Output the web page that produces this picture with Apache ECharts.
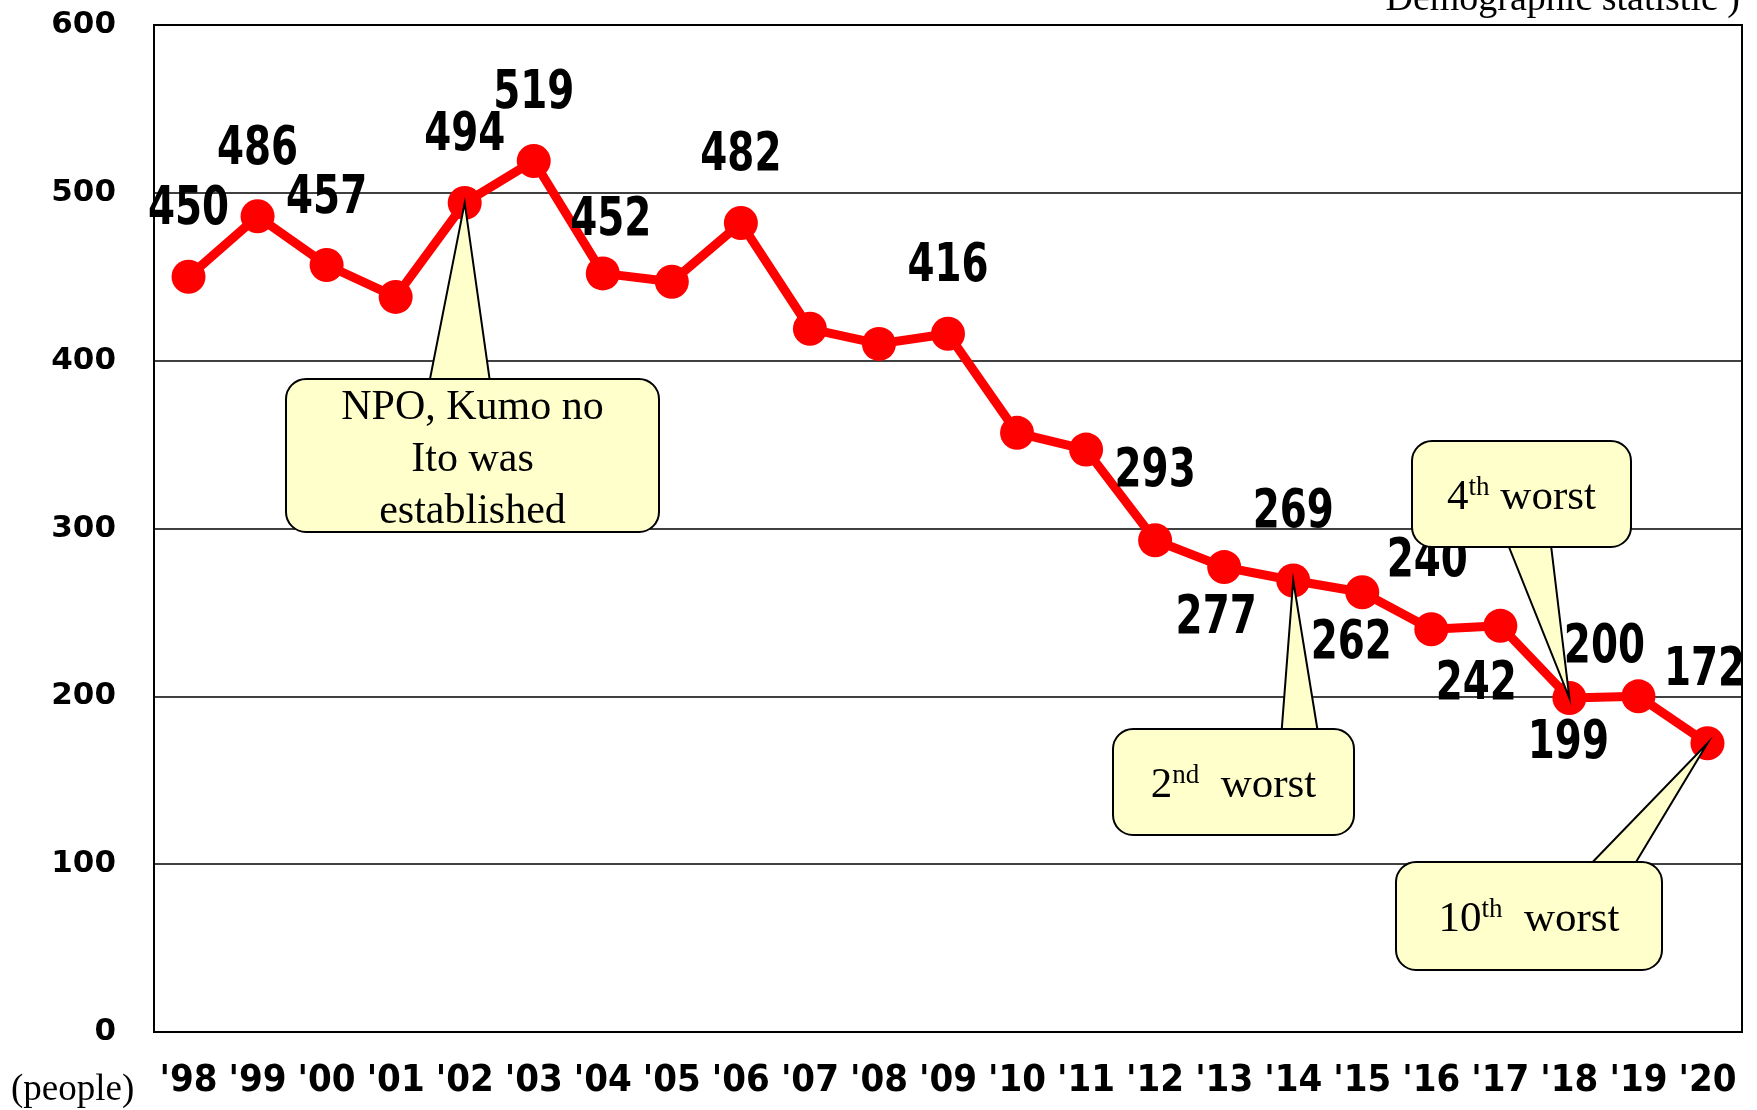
<!DOCTYPE html>
<html>
<head>
<meta charset="utf-8">
<script src="https://cdn.jsdelivr.net/npm/echarts@6/dist/echarts.min.js"></script>
<style>
  html, body { margin: 0; padding: 0; background: #fff; }
  #chart { width: 1757px; height: 1110px; }
</style>
</head>
<body>
<div id="chart"></div>
<script>
// years and counts (people)
var years = ["'98","'99","'00","'01","'02","'03","'04","'05","'06","'07","'08","'09",
             "'10","'11","'12","'13","'14","'15","'16","'17","'18","'19","'20"];
var counts = [450, 486, 457, 438, 494, 519, 452, 447, 482, 419, 410, 416,
              357, 347, 293, 277, 269, 262, 240, 242, 199, 200, 172];
// which points carry a number label
var labelled = [1,1,1,0,1,1,1,0,1,0,0,1,0,0,1,1,1,1,1,1,1,1,1];
var yTicks = [0, 100, 200, 300, 400, 500, 600];

// label offsets from the marker centre (layout, px)
var labelOffsets = {
  0: [0, -67], 1: [0, -66], 2: [0, -66], 4: [0, -67], 5: [0, -67],
  6: [8, -52], 8: [0, -67], 11: [0, -67], 14: [0, -68], 15: [-8, 52],
  16: [0, -68], 17: [-11, 52], 18: [-4, -67], 19: [-24, 59], 20: [-1, 46],
  21: [-34, -48], 22: [-3, -72]
};

var numFont = "'DejaVu Sans Condensed', 'DejaVu Sans', sans-serif";
var serif = "'Liberation Serif', 'DejaVu Serif', serif";

var chart = echarts.init(document.getElementById('chart'));

chart.setOption({
  backgroundColor: '#fff',
  animation: false,
  grid: {
    left: 154, right: 15, top: 25, bottom: 78,
    show: true, borderColor: '#000', borderWidth: 2, backgroundColor: 'transparent'
  },
  xAxis: {
    type: 'category',
    data: years,
    boundaryGap: true,
    axisLine: { lineStyle: { color: '#000', width: 2 } },
    axisTick: { show: false },
    axisLabel: {
      color: '#000', fontFamily: numFont, fontWeight: 'bold', fontSize: 38,
      margin: 30, interval: 0
    }
  },
  yAxis: {
    type: 'value',
    min: yTicks[0], max: yTicks[yTicks.length - 1], interval: 100,
    axisLine: { show: true, lineStyle: { color: '#000', width: 2 } },
    axisTick: { show: false },
    splitLine: { lineStyle: { color: '#000', width: 1.5 } },
    axisLabel: {
      color: '#000', fontFamily: "'DejaVu Sans', sans-serif", fontWeight: 'bold',
      fontSize: 31, margin: 38
    }
  },
  series: [{
    type: 'line',
    data: counts,
    symbol: 'circle',
    symbolSize: 34,
    lineStyle: { color: '#ff0000', width: 9 },
    itemStyle: { color: '#ff0000' },
    label: { show: false },
    z: 3
  }, {
    // value labels in a narrow face
    type: 'custom',
    data: counts.map(function (v, i) { return [i, v]; }),
    encode: { x: 0, y: 1 },
    silent: true,
    z: 4,
    renderItem: function (params, api) {
      var i = api.value(0);
      if (!labelled[i]) return null;
      var p = api.coord([i, api.value(1)]);
      var off = labelOffsets[i] || [0, -67];
      return {
        type: 'text',
        x: p[0] + off[0], y: p[1] + off[1],
        scaleX: 0.8,
        style: {
          text: String(api.value(1)),
          align: 'center', verticalAlign: 'middle',
          fill: '#000', font: 'bold 54px ' + numFont
        }
      };
    }
  }]
});

// callout boxes (layout, px) pointing at data points
var callouts = [
  { idx: 4,  box: [286, 379, 373, 153], base: [428, 491], side: 'top',
    text: 'NPO, Kumo no\nIto was\nestablished', rich: false },
  { idx: 16, box: [1113, 729, 241, 106], base: [1281, 1319], side: 'top',
    text: '{n|2}{s|nd}{n|  worst}', rich: true },
  { idx: 20, box: [1412, 441, 219, 106], base: [1505, 1550], side: 'bottom',
    text: '{n|4}{s|th}{n| worst}', rich: true },
  { idx: 22, box: [1396, 862, 266, 108], base: [1583, 1630], side: 'top',
    text: '{n|10}{s|th}{n|  worst}', rich: true }
];

var graphics = [];
callouts.forEach(function (c) {
  var tip = chart.convertToPixel({ seriesIndex: 0 }, [c.idx, counts[c.idx]]);
  var bx = c.box[0], by = c.box[1], bw = c.box[2], bh = c.box[3];
  var baseY = c.side === 'top' ? by + 10 : by + bh - 10;
  graphics.push({
    type: 'polygon', z: 20,
    shape: { points: [[c.base[0], baseY], [c.base[1], baseY], [tip[0], tip[1]]] },
    style: { fill: '#ffffcc', stroke: '#000', lineWidth: 2 }
  });
  graphics.push({
    type: 'rect', z: 21,
    shape: { x: bx, y: by, width: bw, height: bh, r: 20 },
    style: { fill: '#ffffcc', stroke: '#000', lineWidth: 2 }
  });
  var st = {
    text: c.text, x: bx + bw / 2, y: by + bh / 2 + 4,
    align: 'center', verticalAlign: 'middle',
    fill: '#000', font: '42px ' + serif, lineHeight: 52
  };
  if (c.rich) {
    st.rich = {
      n: { fontFamily: serif, fontSize: 43, lineHeight: 48 },
      s: { fontFamily: serif, fontSize: 27, lineHeight: 48, verticalAlign: 'top' }
    };
  }
  graphics.push({ type: 'text', z: 22, style: st });
});

graphics.push({
  type: 'text', z: 5,
  style: { text: '(people)', x: 11, y: 1090, verticalAlign: 'middle',
           fill: '#000', font: '37px ' + serif }
});
graphics.push({
  type: 'text', z: 5,
  style: { text: 'Demographic statistic )', x: 1740, y: 19, align: 'right',
           verticalAlign: 'bottom', fill: '#000', font: '38px ' + serif }
});

chart.setOption({ graphic: graphics });
</script>
</body>
</html>
